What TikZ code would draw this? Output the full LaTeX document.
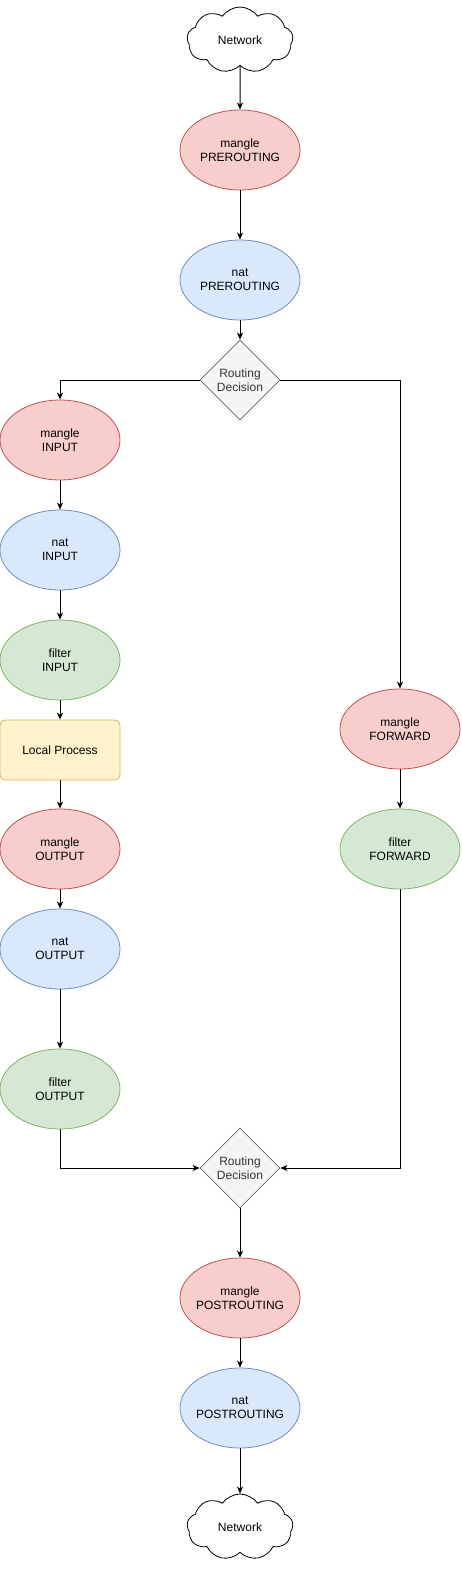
\documentclass[tikz,border=0pt]{standalone}
\usepackage{fontspec}
\setmainfont{Liberation Sans}
\usetikzlibrary{shapes.geometric,shapes.symbols,arrows.meta}
\definecolor{redfill}{HTML}{F8CECC}\definecolor{redline}{HTML}{B85450}
\definecolor{bluefill}{HTML}{DAE8FC}\definecolor{blueline}{HTML}{6C8EBF}
\definecolor{greenfill}{HTML}{D5E8D4}\definecolor{greenline}{HTML}{82B366}
\definecolor{yellowfill}{HTML}{FFF2CC}\definecolor{yellowline}{HTML}{D6B656}
\definecolor{greyfill}{HTML}{F5F5F5}\definecolor{greyline}{HTML}{666666}
\definecolor{greytext}{HTML}{333333}
\begin{document}
\begin{tikzpicture}[x=1pt,y=-1pt,
every node/.style={font=\fontsize{12}{14}\selectfont,align=center,inner sep=0pt,line width=0.8pt},
chain/.style={ellipse,draw,inner xsep=-4pt,minimum width=120pt,minimum height=80pt},
mangle/.style={chain,fill=redfill,draw=redline},
nat/.style={chain,fill=bluefill,draw=blueline},
filter/.style={chain,fill=greenfill,draw=greenline},
decision/.style={diamond,draw=greyline,fill=greyfill,text=greytext,minimum width=80pt,minimum height=80pt,aspect=1},
net/.style={cloud,cloud puffs=9,cloud puff arc=110,aspect=1.6,draw,fill=white,minimum width=106pt,minimum height=66pt},
arr/.style={-{Stealth[length=7pt,width=6pt,inset=2pt]},line width=1pt}]
\useasboundingbox (0,0) rectangle (461,1571);

% incoming
\node[net] (netin) at (240,40) {Network};
\node[mangle] (mpre) at (240,150) {mangle\\PREROUTING};
\node[nat] (npre) at (240,280) {nat\\PREROUTING};
\node[decision] (route1) at (240,380) {Routing\\Decision};

% local branch
\node[mangle] (min) at (60,440) {mangle\\INPUT};
\node[nat] (nin) at (60,550) {nat\\INPUT};
\node[filter] (fin) at (60,660) {filter\\INPUT};
\node[draw=yellowline,fill=yellowfill,rounded corners=6pt,minimum width=120pt,minimum height=60pt] (local) at (60,750) {Local Process};
\node[mangle] (mout) at (60,849) {mangle\\OUTPUT};
\node[nat] (nout) at (60,949) {nat\\OUTPUT};
\node[filter] (fout) at (60,1089) {filter\\OUTPUT};

% forward branch
\node[mangle] (mfwd) at (400,729) {mangle\\FORWARD};
\node[filter] (ffwd) at (400,849) {filter\\FORWARD};

% outgoing
\node[decision] (route2) at (240,1168) {Routing\\Decision};
\node[mangle] (mpost) at (240,1298) {mangle\\POSTROUTING};
\node[nat] (npost) at (240,1408) {nat\\POSTROUTING};
\node[net] (netout) at (240,1527) {Network};

\draw[arr] (netin) -- (mpre);
\draw[arr] (mpre) -- (npre);
\draw[arr] (npre) -- (route1);
\draw[arr] (route1.west) -| (min.north);
\draw[arr] (route1.east) -| (mfwd.north);
\draw[arr] (min) -- (nin);
\draw[arr] (nin) -- (fin);
\draw[arr] (fin) -- (local);
\draw[arr] (local) -- (mout);
\draw[arr] (mout) -- (nout);
\draw[arr] (nout) -- (fout);
\draw[arr] (mfwd) -- (ffwd);
\draw[arr] (fout.south) |- (route2.west);
\draw[arr] (ffwd.south) |- (route2.east);
\draw[arr] (route2) -- (mpost);
\draw[arr] (mpost) -- (npost);
\draw[arr] (npost) -- (netout);
\end{tikzpicture}
\end{document}
